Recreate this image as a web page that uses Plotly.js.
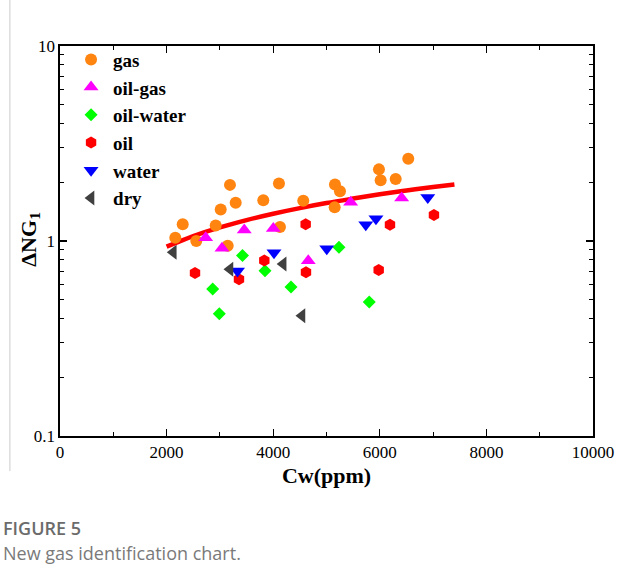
<!DOCTYPE html>
<html>
<head>
<meta charset="utf-8">
<script src="https://cdn.plot.ly/plotly-3.0.1.min.js"></script>
<style>
html,body{margin:0;padding:0;background:#fff;}
#chart{width:617px;height:581px;}
</style>
</head>
<body>
<div id="chart"></div>
<script>
// ---- data ----
var gasX = [2163, 2302, 2557, 2921, 3015, 3189, 3296, 3146, 3814, 4108, 4127, 4564, 5159, 5253, 5153, 5984, 6016, 6298, 6534];
var gasY = [1.04, 1.22, 1.00, 1.20, 1.45, 1.94, 1.57, 0.946, 1.62, 1.97, 1.18, 1.61, 1.95, 1.80, 1.49, 2.33, 2.05, 2.08, 2.64];

var oilGasX = [2733, 3039, 3457, 4002, 4658, 5453, 6410];
var oilGasY = [1.04, 0.917, 1.14, 1.16, 0.793, 1.58, 1.66];

var oilWaterX = [2865, 2989, 3424, 3846, 4334, 5234, 5802];
var oilWaterY = [0.567, 0.424, 0.843, 0.704, 0.581, 0.928, 0.487];

var oilX = [2533, 3358, 3833, 4609, 4615, 5979, 6191, 7016];
var oilY = [0.685, 0.637, 0.794, 1.22, 0.691, 0.710, 1.21, 1.36];

var waterX = [3330, 4015, 5005, 5737, 5928, 6900];
var waterY = [0.702, 0.871, 0.913, 1.21, 1.30, 1.67];

var dryX = [2126, 3189, 4187, 4540];
var dryY = [0.875, 0.717, 0.762, 0.414];

var curveX = [2000, 2500, 3000, 3500, 4000, 4500, 5000, 5500, 6000, 6500, 7000, 7400];
var curveY = [0.935, 1.06, 1.175, 1.28, 1.38, 1.475, 1.565, 1.65, 1.735, 1.815, 1.89, 1.95];

var seriesNames = ['gas', 'oil-gas', 'oil-water', 'oil', 'water', 'dry'];

var xTickVals = [0, 2000, 4000, 6000, 8000, 10000];
var xTickText = ['0', '2000', '4000', '6000', '8000', '10000'];
var yTickVals = [0.1, 1, 10];
var yTickText = ['0.1', '1', '10'];
var yMinorVals = [0.2, 0.3, 0.4, 0.5, 0.6, 0.7, 0.8, 0.9, 2, 3, 4, 5, 6, 7, 8, 9];

var xTitle = 'Cw(ppm)';
var yTitle = 'ΔNG<sub>1</sub>';
var figLabel = 'FIGURE 5';
var figCaption = 'New gas identification chart.';

// ---- chart ----
var serif = 'Liberation Serif, Times New Roman, serif';

function pts(x, y, name, symbol, color, size) {
  return {
    type: 'scatter', mode: 'markers', x: x, y: y, name: name,
    marker: {symbol: symbol, color: color, size: size, line: {width: 0}},
    cliponaxis: false
  };
}

var traces = [
  {type: 'scatter', mode: 'lines', x: curveX, y: curveY, showlegend: false,
   line: {color: '#ff0000', width: 4.5, shape: 'spline'}, hoverinfo: 'skip'},
  pts(gasX, gasY, seriesNames[0], 'circle', '#ff8410', 12),
  pts(oilGasX, oilGasY, seriesNames[1], 'triangle-up', '#ff00ff', 13),
  pts(oilWaterX, oilWaterY, seriesNames[2], 'diamond', '#00ff00', 10),
  pts(oilX, oilY, seriesNames[3], 'hexagon', '#ff0000', 12),
  pts(waterX, waterY, seriesNames[4], 'triangle-down', '#0000ff', 13),
  pts(dryX, dryY, seriesNames[5], 'triangle-left', '#404040', 13)
];

var layout = {
  width: 617, height: 581,
  margin: {l: 60, r: 24, t: 46, b: 145},
  paper_bgcolor: '#ffffff', plot_bgcolor: '#ffffff',
  showlegend: true,
  legend: {
    x: 0.017, y: 1.014, xanchor: 'left', yanchor: 'top',
    bgcolor: 'rgba(0,0,0,0)', borderwidth: 0,
    font: {family: serif, size: 19, color: '#000', weight: 'bold'},
    itemsizing: 'trace', itemwidth: 34
  },
  xaxis: {
    range: [0, 10000], type: 'linear',
    tickvals: xTickVals, ticktext: xTickText,
    ticks: 'inside', ticklen: 7, tickwidth: 1.2, tickcolor: '#000',
    minor: {dtick: 1000, ticks: 'inside', ticklen: 4, tickwidth: 1, tickcolor: '#000', showgrid: false},
    showline: true, linecolor: '#000', linewidth: 1.6, mirror: 'ticks',
    showgrid: false, zeroline: false,
    tickfont: {family: serif, size: 17, color: '#000'},
    title: {text: xTitle, font: {family: serif, size: 22, color: '#000', weight: 'bold'}, standoff: 6}
  },
  yaxis: {
    type: 'log', range: [-1, 1],
    tickvals: yTickVals, ticktext: yTickText,
    ticks: 'inside', ticklen: 7, tickwidth: 1.2, tickcolor: '#000',
    minor: {tickvals: yMinorVals, ticks: 'inside', ticklen: 4, tickwidth: 1, tickcolor: '#000', showgrid: false},
    showline: true, linecolor: '#000', linewidth: 1.6, mirror: 'ticks',
    showgrid: false, zeroline: false,
    tickfont: {family: serif, size: 17, color: '#000'},
    title: {text: ''}
  },
  shapes: [
    {type: 'line', xref: 'paper', yref: 'paper', x0: -0.094, x1: -0.094, y0: 1.118, y1: -0.09,
     line: {color: '#cccccc', width: 1}}
  ],
  annotations: [
    {text: yTitle, xref: 'paper', yref: 'paper', x: -0.057, y: 0.505, textangle: -90,
     xanchor: 'center', yanchor: 'middle', showarrow: false,
     font: {family: serif, size: 22, color: '#000', weight: 'bold'}},
    {text: figLabel, xref: 'paper', yref: 'paper', x: -0.111, y: -0.236,
     xanchor: 'left', yanchor: 'middle', showarrow: false,
     font: {family: 'Open Sans, sans-serif', size: 18, color: '#6b6b6b', weight: 600}},
    {text: figCaption, xref: 'paper', yref: 'paper', x: -0.111, y: -0.3,
     xanchor: 'left', yanchor: 'middle', showarrow: false,
     font: {family: 'Open Sans, sans-serif', size: 18, color: '#7a7a7a'}}
  ]
};

Plotly.newPlot('chart', traces, layout, {displayModeBar: false, staticPlot: true});
</script>
</body>
</html>
